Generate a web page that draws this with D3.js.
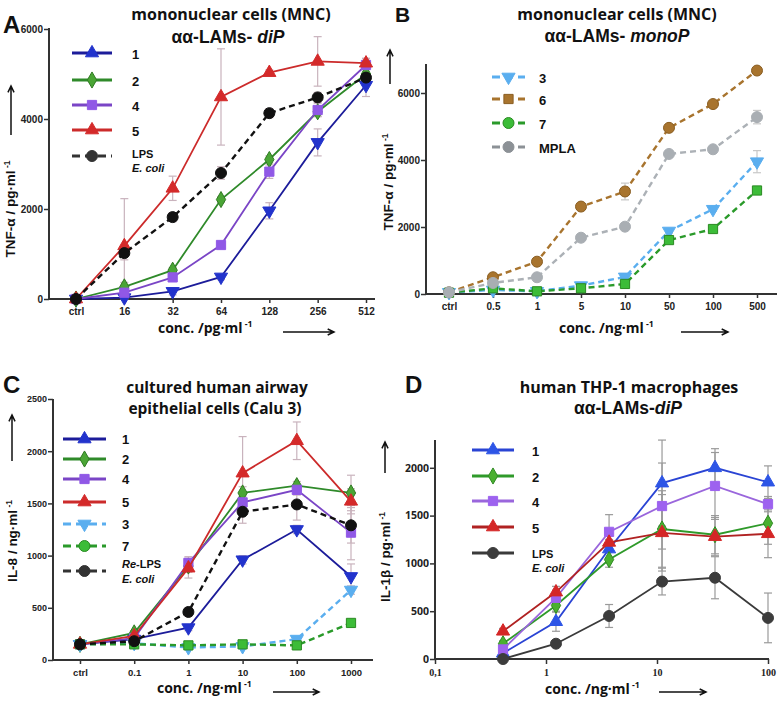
<!DOCTYPE html>
<html>
<head>
<meta charset="utf-8">
<script src="https://cdn.jsdelivr.net/npm/d3@7"></script>
<style>
body { margin: 0; background: #fff; }
text { font-family: "Liberation Sans", Arial, sans-serif; }
</style>
</head>
<body>
<script>
// --- panel A : TNF-alpha, MNC, diP (pg/ml)
var catsA = ["ctrl", "16", "32", "64", "128", "256", "512"];
var a1 = [0, 30, 170, 490, 1960, 3480, 4750];
var a2 = [0, 270, 640, 2210, 3100, 4160, 5000];
var a4 = [0, 140, 480, 1200, 2830, 4200, 5200];
var a5 = [0, 1180, 2460, 4490, 5030, 5280, 5240];
var aLps = [0, 1020, 1820, 2800, 4130, 4480, 4920];
var a1Err = [0, 30, 80, 60, 180, 300, 250];
var a2Err = [0, 100, 60, 60, 80, 100, 100];
var a4Err = [0, 60, 80, 60, 150, 150, 150];
var a5Err = [0, 1050, 270, 1070, 60, 550, 100];
var aLpsErr = [0, 150, 100, 140, 100, 110, 100];

// --- panel B : TNF-alpha, MNC, monoP (ng/ml)
var catsB = ["ctrl", "0.5", "1", "5", "10", "50", "100", "500"];
var b3 = [50, 120, 80, 250, 510, 1880, 2530, 3950];
var b6 = [50, 500, 965, 2610, 3060, 4960, 5670, 6670];
var b7 = [40, 170, 80, 170, 300, 1610, 1940, 3090];
var bMpla = [50, 330, 500, 1680, 2010, 4180, 4320, 5280];
var b3Err = [0, 20, 20, 40, 60, 60, 60, 330];
var b6Err = [0, 30, 40, 40, 250, 60, 50, 40];
var b7Err = [0, 20, 20, 20, 30, 60, 50, 50];
var bMplaErr = [0, 20, 30, 40, 40, 100, 40, 200];

// --- panel C : IL-8, Calu 3 (ng/ml)
var catsC = ["ctrl", "0.1", "1", "10", "100", "1000"];
var c1 = [150, 200, 310, 960, 1250, 800];
var c2 = [150, 260, 900, 1600, 1670, 1600];
var c4 = [150, 210, 930, 1510, 1630, 1220];
var c5 = [150, 230, 880, 1790, 2100, 1520];
var c3 = [150, 160, 120, 130, 200, 670];
var c7 = [150, 150, 140, 150, 140, 355];
var cLps = [150, 180, 460, 1420, 1490, 1290];
var c1Err = [0, 10, 30, 40, 40, 120];
var c2Err = [0, 20, 60, 60, 40, 170];
var c4Err = [0, 20, 60, 60, 50, 260];
var c5Err = [0, 20, 95, 350, 180, 120];
var c3Err = [0, 10, 10, 10, 20, 40];
var c7Err = [0, 10, 10, 10, 10, 20];
var cLpsErr = [0, 20, 40, 110, 150, 170];

// --- panel D : IL-1beta, THP-1 (ng/ml, log axis)
var concD = [0.41, 1.23, 3.7, 11.1, 33.3, 100];
var d1 = [60, 390, 1150, 1840, 2000, 1850];
var d2 = [160, 560, 1040, 1360, 1300, 1420];
var d4 = [100, 640, 1330, 1600, 1810, 1620];
var d5 = [290, 700, 1220, 1320, 1280, 1310];
var dLps = [0, 160, 450, 810, 850, 430];
var d1Err = [30, 100, 100, 450, 200, 170];
var d2Err = [30, 60, 80, 400, 200, 220];
var d4Err = [30, 80, 180, 450, 350, 80];
var d5Err = [30, 60, 80, 400, 200, 250];
var dLpsErr = [0, 30, 120, 140, 220, 260];

var svg = d3.select("body").append("svg")
    .attr("width", 784)
    .attr("height", 702);

// symbol helper: tri-up, tri-down, diamond, square, circle
function symPath(kind) {
    var t = {tri: d3.symbolTriangle, triDown: d3.symbolTriangle, diamond: d3.symbolDiamond,
             square: d3.symbolSquare, circle: d3.symbolCircle}[kind];
    var size = {tri: 75, triDown: 75, diamond: 75, square: 85, circle: 95}[kind];
    return d3.symbol().type(t).size(size)();
}

function marker(g, kind, x, y, fill, stroke) {
    g.append("path")
        .attr("d", symPath(kind))
        .attr("transform", "translate(" + x + "," + y + ")" + (kind == "triDown" ? " rotate(180)" : ""))
        .attr("fill", fill)
        .attr("stroke", stroke || fill)
        .attr("stroke-width", 1);
}

function arrow(x1, y1, x2, y2) {
    var ang = Math.atan2(y2 - y1, x2 - x1), h = 7;
    svg.append("path")
        .attr("d", "M" + x1 + "," + y1 + "L" + x2 + "," + y2 +
              "M" + (x2 - h * Math.cos(ang - 0.45)) + "," + (y2 - h * Math.sin(ang - 0.45)) +
              "L" + x2 + "," + y2 +
              "L" + (x2 - h * Math.cos(ang + 0.45)) + "," + (y2 - h * Math.sin(ang + 0.45)))
        .attr("fill", "none").attr("stroke", "#111").attr("stroke-width", 1.5);
}

function label(x, y, txt, size, opts) {
    opts = opts || {};
    var t = svg.append("text")
        .attr("x", x).attr("y", y)
        .attr("font-size", size)
        .attr("font-weight", opts.weight || "bold")
        .attr("text-anchor", opts.anchor || "start")
        .attr("fill", "#111")
        .style("font-family", opts.font || null)
        .style("font-style", opts.italic ? "italic" : null)
        .text(txt);
    if (opts.rotate) t.attr("transform", "rotate(-90," + x + "," + y + ")");
    return t;
}

// label with superscript "-1"
function unitLabel(x, y, txt, size, opts) {
    var t = label(x, y, txt, size, opts);
    t.append("tspan").attr("dy", -size * 0.4).attr("font-size", size * 0.62).text(" -1");
    return t;
}

function drawPanel(p) {
    var g = svg.append("g");
    var xs = p.xvals;

    // axes
    var xa = g.append("g")
        .attr("transform", "translate(0," + p.bottom + ")")
        .call(p.xAxis);
    xa.select(".domain").remove();
    xa.selectAll("line").attr("stroke", "#333").attr("stroke-width", 1.5);
    xa.selectAll("text").attr("fill", "#222").attr("font-size", p.xFont || 10)
        .attr("font-weight", "bold").attr("dy", "0.9em")
        .style("font-family", p.xFamily || null);

    var ya = g.append("g")
        .attr("transform", "translate(" + p.left + ",0)")
        .call(d3.axisLeft(p.y).tickValues(p.yTicks).tickSize(5).tickFormat(d3.format("d")));
    ya.select(".domain").remove();
    ya.selectAll("line").attr("stroke", "#333").attr("stroke-width", 1.5);
    ya.selectAll("text").attr("fill", "#222").attr("font-size", p.yFont || 10)
        .attr("font-weight", "bold").attr("x", -6)
        .style("font-family", p.yFamily || null);

    g.append("line").attr("x1", p.left).attr("x2", p.right)
        .attr("y1", p.bottom).attr("y2", p.bottom)
        .attr("stroke", "#333").attr("stroke-width", 2);
    g.append("line").attr("x1", p.left).attr("x2", p.left)
        .attr("y1", p.top).attr("y2", p.bottom)
        .attr("stroke", "#333").attr("stroke-width", 2);

    var y0 = p.y.domain()[0];

    // error bars
    p.series.forEach(function (s) {
        s.values.forEach(function (v, i) {
            var e = s.err[i];
            if (!e) return;
            var x = p.x(xs[i]), yt = p.y(v + e), yb = p.y(Math.max(y0, v - e));
            var eg = g.append("g").attr("stroke", p.errColor).attr("stroke-width", 1.2);
            eg.append("line").attr("x1", x).attr("x2", x).attr("y1", yt).attr("y2", yb);
            eg.append("line").attr("x1", x - 4).attr("x2", x + 4).attr("y1", yt).attr("y2", yt);
            eg.append("line").attr("x1", x - 4).attr("x2", x + 4).attr("y1", yb).attr("y2", yb);
        });
    });

    // lines + markers
    p.series.forEach(function (s) {
        var line = d3.line()
            .x(function (d, i) { return p.x(xs[i]); })
            .y(function (d) { return p.y(d); });
        g.append("path")
            .attr("d", line(s.values))
            .attr("fill", "none")
            .attr("stroke", s.line)
            .attr("stroke-width", s.dash ? 2.4 : 1.8)
            .attr("stroke-dasharray", s.dash ? "6,4" : null);
        s.values.forEach(function (v, i) {
            marker(g, s.mark, p.x(xs[i]), p.y(v), s.fill, s.stroke);
        });
    });

    // legend
    p.series.forEach(function (s, i) {
        var ly = p.legY[i];
        g.append("line")
            .attr("x1", p.legX[0]).attr("x2", p.legX[1])
            .attr("y1", ly).attr("y2", ly)
            .attr("stroke", s.legLine || s.line)
            .attr("stroke-width", 3)
            .attr("stroke-dasharray", s.dash ? "8,5" : null);
        marker(g, s.legMark || s.mark, (p.legX[0] + p.legX[1]) / 2, ly, s.legFill || s.fill, s.legFill || s.stroke);
    });
}

var OS = "Open Sans";

// ---------------- panel A
var xA = d3.scalePoint().domain(catsA).range([76, 366]);
var yA = d3.scaleLinear().domain([0, 6000]).range([299, 29]);
var blue = "#2233cc", purple = "#9058e6", red = "#d42a2a";
drawPanel({
    x: xA, y: yA, xvals: catsA, left: 49, right: 375, top: 28, bottom: 299,
    xAxis: d3.axisBottom(xA).tickSize(4).tickSizeOuter(0),
    yTicks: [0, 2000, 4000, 6000],
    errColor: "#c9b3bd",
    legX: [72, 112], legY: [53, 80, 105, 130, 156],
    series: [
        {values: a1, err: a1Err, line: "#1c1c9a", fill: blue, mark: "triDown", legMark: "tri"},
        {values: a2, err: a2Err, line: "#2f8a2a", fill: "#4aa535", stroke: "#2f7a22", mark: "diamond"},
        {values: a4, err: a4Err, line: "#7a45c6", fill: purple, mark: "square"},
        {values: a5, err: a5Err, line: "#cc2b2b", fill: red, mark: "tri"},
        {values: aLps, err: aLpsErr, line: "#111", fill: "#111", mark: "circle", dash: true, legLine: "#333", legFill: "#333"}
    ]
});
label(3, 33, "A", 24);
label(231, 20, "mononuclear cells (MNC)", 16, {anchor: "middle", font: OS});
var tA = label(228, 43, "αα-LAMs- ", 17.5, {anchor: "middle"});
tA.append("tspan").style("font-style", "italic").text("diP");
["1", "2", "4", "5"].forEach(function (n, i) {
    label(132, [53, 80, 105, 130][i] + 6, n, 13);
});
label(132, 158, "LPS", 11);
label(132, 172, "E. coli", 11, {italic: true});
unitLabel(15, 209, "TNF-α / pg·ml", 13.5, {rotate: true, anchor: "middle"});
arrow(11, 135, 11, 86);
unitLabel(158, 333, "conc. /pg·ml", 14, {font: OS});
arrow(283, 332, 334, 332);

// ---------------- panel B
var xB = d3.scalePoint().domain(catsB).range([449, 757]);
var yB = d3.scaleLinear().domain([0, 6900]).range([294, 294 - 6900 / 2000 * 67]);
drawPanel({
    x: xB, y: yB, xvals: catsB, left: 426, right: 777, top: 64, bottom: 294,
    xAxis: d3.axisBottom(xB).tickSize(4).tickSizeOuter(0),
    yTicks: [0, 2000, 4000, 6000],
    errColor: "#c8c8c8",
    legX: [492, 525], legY: [77, 99, 123, 147],
    series: [
        {values: b3, err: b3Err, line: "#5aaeef", fill: "#5aaeef", mark: "triDown", dash: true},
        {values: b6, err: b6Err, line: "#a8742e", fill: "#a8742e", stroke: "#8a5e22", mark: "circle", legMark: "square", dash: true},
        {values: b7, err: b7Err, line: "#2a9a2a", fill: "#3cbc38", stroke: "#2a8a22", mark: "square", legMark: "circle", dash: true},
        {values: bMpla, err: bMplaErr, line: "#acb1b6", fill: "#a9aeb3", mark: "circle", dash: true, legLine: "#8c9196", legFill: "#8c9196"}
    ]
});
label(395, 22, "B", 21);
label(617, 20, "mononuclear cells (MNC)", 16, {anchor: "middle", font: OS});
var tB = label(617, 42, "αα-LAMs- ", 17.5, {anchor: "middle"});
tB.append("tspan").style("font-style", "italic").text("monoP");
["3", "6", "7", "MPLA"].forEach(function (n, i) {
    label(539, [77, 99, 123, 147][i] + 6, n, 13);
});
unitLabel(393, 182, "TNF-α / pg·ml", 13.5, {rotate: true, anchor: "middle"});
arrow(390, 84, 390, 50);
unitLabel(559, 333, "conc. /ng·ml", 14, {font: OS});
arrow(681, 332, 728, 332);

// ---------------- panel C
var xC = d3.scalePoint().domain(catsC).range([80, 351]);
var yC = d3.scaleLinear().domain([0, 2500]).range([660, 399]);
drawPanel({
    x: xC, y: yC, xvals: catsC, left: 53, right: 373, top: 399, bottom: 660,
    xAxis: d3.axisBottom(xC).tickSize(4).tickSizeOuter(0),
    xFont: 9.5, yFont: 9,
    yTicks: [0, 500, 1000, 1500, 2000, 2500],
    errColor: "#c9b3bd",
    legX: [63, 106], legY: [439, 459, 479, 502, 524, 546, 571],
    series: [
        {values: c1, err: c1Err, line: "#1c1c9a", fill: blue, mark: "triDown", legMark: "tri"},
        {values: c2, err: c2Err, line: "#2f8a2a", fill: "#4aa535", stroke: "#2f7a22", mark: "diamond"},
        {values: c4, err: c4Err, line: "#7a45c6", fill: purple, mark: "square"},
        {values: c5, err: c5Err, line: "#cc2b2b", fill: red, mark: "tri"},
        {values: c3, err: c3Err, line: "#5aaeef", fill: "#5aaeef", mark: "triDown", dash: true},
        {values: c7, err: c7Err, line: "#2a9a2a", fill: "#3cbc38", stroke: "#2a8a22", mark: "square", legMark: "circle", dash: true},
        {values: cLps, err: cLpsErr, line: "#111", fill: "#111", mark: "circle", dash: true, legLine: "#333", legFill: "#333"}
    ]
});
label(3, 393, "C", 24);
label(217, 393, "cultured human airway", 15.5, {anchor: "middle", font: OS});
label(215, 414, "epithelial cells (Calu 3)", 15.5, {anchor: "middle", font: OS});
["1", "2", "4", "5", "3", "7"].forEach(function (n, i) {
    label(122, [439, 459, 479, 502, 524, 546][i] + 5, n, 13);
});
var tRe = label(122, 568, "", 11);
tRe.append("tspan").style("font-style", "italic").text("Re");
tRe.append("tspan").text("-LPS");
label(122, 583, "E. coli", 11, {italic: true});
unitLabel(17, 541, "IL-8 / ng·ml", 13.5, {rotate: true, anchor: "middle"});
arrow(12, 461, 12, 415);
unitLabel(157, 693, "conc. /ng·ml", 14, {font: OS});
arrow(273, 692, 319, 692);

// ---------------- panel D
var xD = d3.scaleLog().domain([0.1, 100]).range([435, 768]);
var yD = d3.scaleLinear().domain([0, 2290]).range([659, 659 - 2290 / 500 * 47.8]);
drawPanel({
    x: xD, y: yD, xvals: concD, left: 435, right: 769, top: 440, bottom: 659,
    xAxis: d3.axisBottom(xD).tickValues([0.1, 1, 10, 100]).tickSize(5).tickSizeOuter(0)
        .tickFormat(function (d) { return d == 0.1 ? "0,1" : d; }),
    xFont: 10, xFamily: "Liberation Serif",
    yFont: 10.5, yFamily: OS,
    yTicks: [0, 500, 1000, 1500, 2000],
    errColor: "#9a9a9a",
    legX: [472, 514], legY: [450, 476, 501, 527, 553],
    series: [
        {values: d1, err: d1Err, line: "#2a44d4", fill: "#2d55e6", mark: "tri"},
        {values: d2, err: d2Err, line: "#2f9a2a", fill: "#4ab030", stroke: "#2f8a22", mark: "diamond"},
        {values: d4, err: d4Err, line: "#9a66dc", fill: "#9d62ef", mark: "square"},
        {values: d5, err: d5Err, line: "#b02222", fill: "#d42626", mark: "tri"},
        {values: dLps, err: dLpsErr, line: "#3a3a3a", fill: "#3c3c3c", mark: "circle"}
    ]
});
label(405, 393, "D", 24);
label(629, 393, "human THP-1 macrophages", 16, {anchor: "middle", font: OS});
var tD = label(628, 414, "αα-LAMs-", 17.5, {anchor: "middle"});
tD.append("tspan").style("font-style", "italic").text("diP");
["1", "2", "4", "5"].forEach(function (n, i) {
    label(532, [450, 476, 501, 527][i] + 6, n, 13);
});
label(532, 558, "LPS", 11);
label(532, 572, "E. coli", 11, {italic: true});
unitLabel(390, 557, "IL-1β / pg·ml", 13.5, {rotate: true, anchor: "middle"});
arrow(385, 473, 385, 442);
unitLabel(545, 694, "conc. /ng·ml", 14, {font: OS});
arrow(659, 692, 706, 692);
</script>
</body>
</html>
